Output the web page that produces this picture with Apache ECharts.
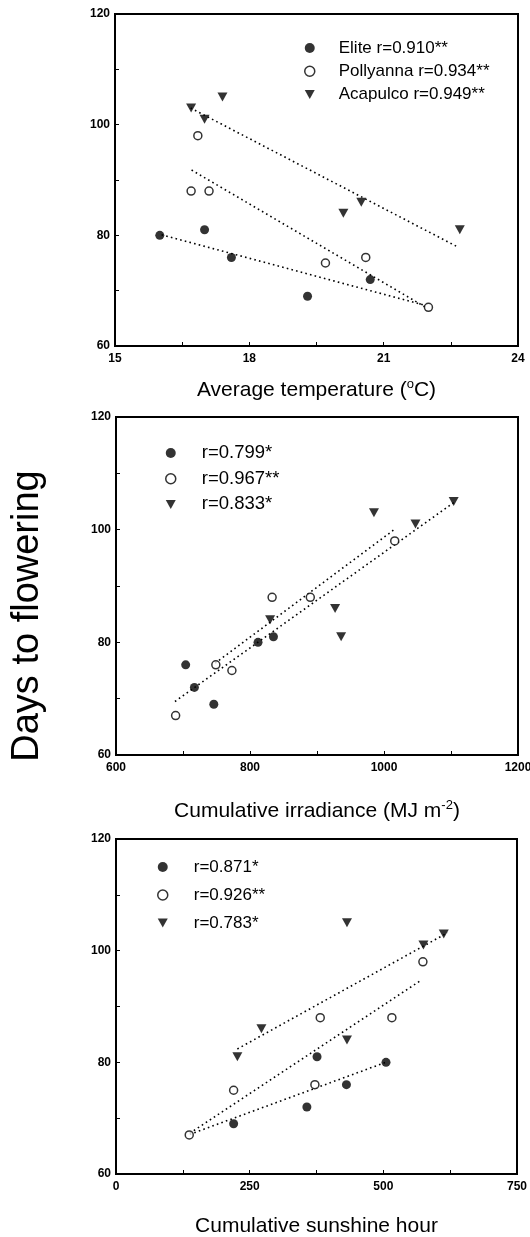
<!DOCTYPE html>
<html>
<head>
<meta charset="utf-8">
<script src="https://cdn.jsdelivr.net/npm/echarts@6/dist/echarts.min.js"></script>
<style>
html,body{margin:0;padding:0;background:#fff;}
#chart{width:530px;height:1237px;}
</style>
</head>
<body>
<div id="chart"></div>
<script>
// ---------- DATA ----------
// Panel 1: Average temperature (°C) vs days to flowering
const tempElite      = [[16.0,80],[17.0,81],[17.6,76],[19.3,69],[20.7,72]];
const tempPollyanna  = [[16.85,98],[16.7,88],[17.1,88],[19.7,75],[20.6,76],[22.0,67]];
const tempAcapulco   = [[16.7,103],[17.0,101],[17.4,105],[20.1,84],[20.5,86],[22.7,81]];
const tempFitElite     = [[16.04,80.1],[21.9,67.4]];
const tempFitPollyanna = [[16.71,91.8],[21.98,66.8]];
const tempFitAcapulco  = [[16.69,103.0],[22.63,78.0]];
const tempLegend = ['Elite r=0.910**','Pollyanna r=0.934**','Acapulco r=0.949**'];

// Panel 2: Cumulative irradiance (MJ m-2)
const irrElite     = [[704,76],[717,72],[746,69],[812,80],[835,81]];
const irrPollyanna = [[689,67],[749,76],[773,75],[833,88],[890,88],[1016,98]];
const irrAcapulco  = [[830,84],[927,86],[936,81],[985,103],[1047,101],[1104,105]];
const irrFitA = [[688,69.5],[1104,104.8]];
const irrFitB = [[748,76.3],[1014,99.9]];
const irrLegend = ['r=0.799*','r=0.967**','r=0.833*'];

// Panel 3: Cumulative sunshine hour
const sunElite     = [[220,69],[357,72],[376,81],[431,76],[505,80]];
const sunPollyanna = [[137,67],[220,75],[372,76],[382,88],[516,88],[574,98]];
const sunAcapulco  = [[227,81],[272,86],[432,84],[432,105],[575,101],[613,103]];
const sunFitElite     = [[138,67.1],[504.5,80.0]];
const sunFitPollyanna = [[138,67.3],[569,94.6]];
const sunFitAcapulco  = [[227,82.4],[620,103.2]];
const sunLegend = ['r=0.871*','r=0.926**','r=0.783*'];

const yTicks = {min:60, max:120, interval:20};
const xTemp = {min:15, max:24, interval:3};
const xIrr  = {min:600, max:1200, interval:200};
const xSun  = {min:0, max:750, interval:250};

// ---------- STYLE ----------
const FONT = 'Liberation Sans, Arial, sans-serif';
const triPath = 'path://M0,0L10,0L5,9Z';
const styles = {
  filled: {symbol:'circle', symbolSize:9, itemStyle:{color:'#000'}},
  open:   {symbol:'circle', symbolSize:8, itemStyle:{color:'#fff', borderColor:'#000', borderWidth:1.5}},
  tri:    {symbol:triPath, symbolSize:[10,9], itemStyle:{color:'#000'}}
};

function scatter(name, data, idx, st){
  return Object.assign({type:'scatter', name:name, data:data, xAxisIndex:idx, yAxisIndex:idx, z:3}, JSON.parse(JSON.stringify(st)));
}
function fit(data, idx){
  return {type:'line', data:data, xAxisIndex:idx, yAxisIndex:idx, showSymbol:false, symbol:'none', silent:true, z:2,
    lineStyle:{color:'#000', width:1.6, type:[1.6,3.2]}};
}
function xAxis(idx, range, name, gap){
  return {gridIndex:idx, type:'value', min:range.min, max:range.max, interval:range.interval,
    axisLine:{show:true, onZero:false, lineStyle:{color:'#000', width:2}},
    axisTick:{show:true, inside:true, length:4, lineStyle:{color:'#000', width:1}},
    minorTick:{show:true, splitNumber:2, length:4, lineStyle:{color:'#000', width:1}},
    splitLine:{show:false},
    axisLabel:{color:'#000', fontFamily:FONT, fontSize:12, fontWeight:'bold', margin:7,
      formatter:function(v){return String(v);}},
    name:name, nameLocation:'middle', nameGap:gap,
    nameTextStyle:{color:'#000', fontFamily:FONT, fontSize:21, lineHeight:24,
      rich:{sup:{fontSize:13, fontFamily:FONT, color:'#000', verticalAlign:'top', lineHeight:12}}}
  };
}
function yAxis(idx){
  return {gridIndex:idx, type:'value', min:yTicks.min, max:yTicks.max, interval:yTicks.interval,
    axisLine:{show:true, onZero:false, lineStyle:{color:'#000', width:2}},
    axisTick:{show:true, inside:true, length:4, lineStyle:{color:'#000', width:1}},
    minorTick:{show:true, splitNumber:2, length:4, lineStyle:{color:'#000', width:1}},
    splitLine:{show:false},
    axisLabel:{color:'#000', fontFamily:FONT, fontSize:12, fontWeight:'bold', margin:5,
      formatter:function(v){return String(v);}}
  };
}
function legend(names, left, top, fontSize, lh, gap, pad){
  return {orient:'vertical', left:left, top:top, padding:0, itemWidth:10, itemHeight:10, itemGap:gap,
    textStyle:{color:'#000', fontFamily:FONT, fontSize:fontSize, lineHeight:lh, padding:[0,0,0,pad]},
    data:[
      {name:names[0], icon:'circle', itemStyle:{color:'#000', borderWidth:0}},
      {name:names[1], icon:'circle', itemStyle:{color:'#fff', borderColor:'#000', borderWidth:1.5}},
      {name:names[2], icon:triPath, itemStyle:{color:'#000', borderWidth:0}}
    ]};
}

const gridBase = {show:true, borderColor:'#000', borderWidth:2, containLabel:false, outerBoundsMode:'none'};
const option = {
  animation:false,
  backgroundColor:'#fff',
  textStyle:{fontFamily:FONT},
  grid:[
    Object.assign({left:115, top:14, width:403, height:332}, gridBase),
    Object.assign({left:116, top:417, width:402, height:338}, gridBase),
    Object.assign({left:116, top:839, width:401, height:335}, gridBase)
  ],
  xAxis:[
    xAxis(0, xTemp, 'Average temperature ({sup|o}C)', 32),
    xAxis(1, xIrr, 'Cumulative irradiance (MJ m{sup|-2})', 44),
    xAxis(2, xSun, 'Cumulative sunshine hour', 40)
  ],
  yAxis:[yAxis(0), yAxis(1), yAxis(2)],
  legend:[
    legend(tempLegend, 304, 38, 17, 20, 3.3, 19),
    legend(irrLegend, 165, 442, 18.5, 22, 3.7, 21),
    legend(sunLegend, 157, 856, 17, 22, 6, 21)
  ],
  graphic:[{
    type:'text', x:28, y:616, rotation:Math.PI/2,
    style:{text:'Days to flowering', fontSize:38, fontFamily:FONT, fill:'#000', textAlign:'center', textVerticalAlign:'middle'}
  }],
  series:[
    fit(tempFitElite,0), fit(tempFitPollyanna,0), fit(tempFitAcapulco,0),
    scatter(tempLegend[0], tempElite, 0, styles.filled),
    scatter(tempLegend[1], tempPollyanna, 0, styles.open),
    scatter(tempLegend[2], tempAcapulco, 0, styles.tri),
    fit(irrFitA,1), fit(irrFitB,1),
    scatter(irrLegend[0], irrElite, 1, styles.filled),
    scatter(irrLegend[1], irrPollyanna, 1, styles.open),
    scatter(irrLegend[2], irrAcapulco, 1, styles.tri),
    fit(sunFitElite,2), fit(sunFitPollyanna,2), fit(sunFitAcapulco,2),
    scatter(sunLegend[0], sunElite, 2, styles.filled),
    scatter(sunLegend[1], sunPollyanna, 2, styles.open),
    scatter(sunLegend[2], sunAcapulco, 2, styles.tri)
  ]
};
const chart = echarts.init(document.getElementById('chart'), null, {renderer:'canvas'});
chart.setOption(option);
</script>
</body>
</html>
